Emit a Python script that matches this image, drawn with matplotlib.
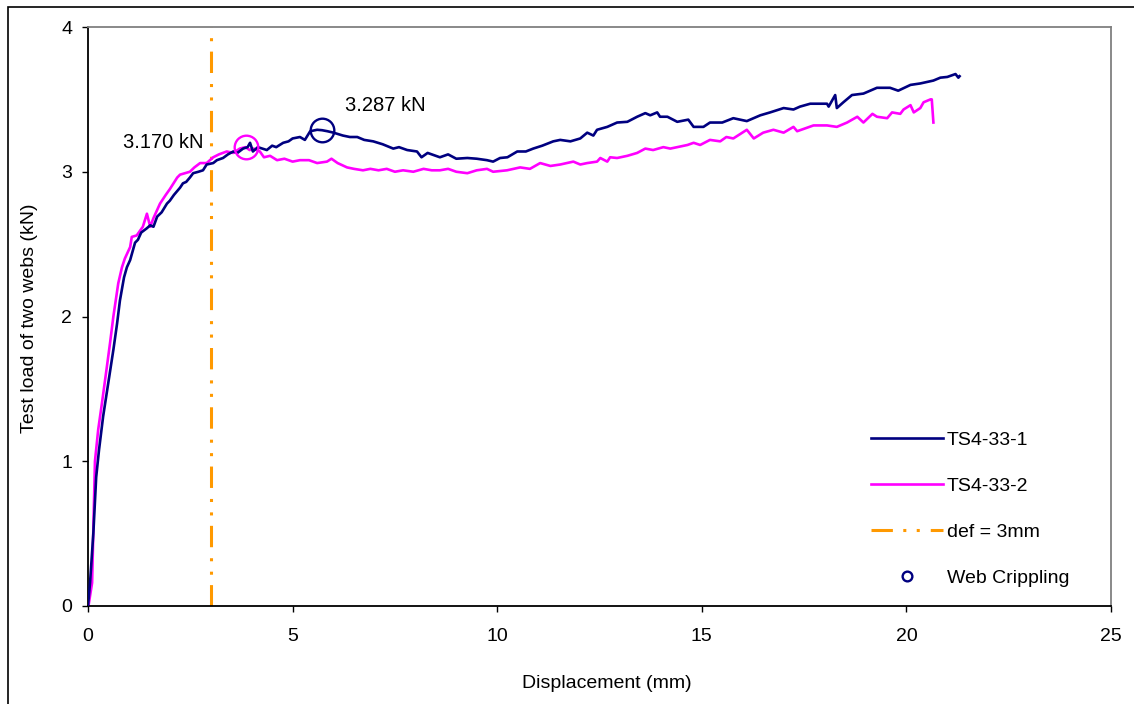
import matplotlib
matplotlib.use("Agg")
import matplotlib.pyplot as plt
from matplotlib.lines import Line2D
from matplotlib.patches import Rectangle

plt.rcParams['font.family'] = ['Liberation Sans', 'DejaVu Sans']

# TS4-33-1 load-displacement curve
disp_1 = [0, 0.05, 0.13, 0.2, 0.27, 0.37, 0.44, 0.54, 0.62, 0.71, 0.78, 0.88, 0.95, 1.03,
          1.15, 1.22, 1.3, 1.44, 1.52, 1.6, 1.69, 1.8, 1.93, 2.0, 2.1, 2.25, 2.32, 2.4,
          2.49, 2.57, 2.7, 2.81, 2.9, 3.06, 3.15, 3.3, 3.42, 3.55, 3.65, 3.79, 3.9, 3.96,
          4.03, 4.15, 4.37, 4.5, 4.6, 4.77, 4.9, 5.0, 5.18, 5.3, 5.43, 5.6, 5.72, 5.85,
          6.0, 6.23, 6.4, 6.58, 6.75, 6.97, 7.2, 7.46, 7.6, 7.8, 8.04, 8.15, 8.3, 8.6,
          8.8, 9.0, 9.27, 9.5, 9.75, 9.9, 10.07, 10.25, 10.49, 10.7, 10.88, 11.1, 11.37,
          11.54, 11.79, 12.03, 12.2, 12.35, 12.44, 12.69, 12.93, 13.18, 13.42, 13.62,
          13.74, 13.91, 13.98, 14.16, 14.4, 14.67, 14.8, 15.04, 15.2, 15.5, 15.77, 16.1,
          16.43, 16.67, 17.0, 17.24, 17.4, 17.65, 18.06, 18.1, 18.26, 18.3, 18.46, 18.67,
          18.95, 19.28, 19.6, 19.8, 20.1, 20.34, 20.66, 20.83, 21.0, 21.2, 21.27, 21.3]
load_1 = [0, 0.16, 0.5, 0.89, 1.08, 1.31, 1.44, 1.63, 1.77, 1.95, 2.11, 2.27, 2.34, 2.39,
          2.51, 2.53, 2.58, 2.61, 2.63, 2.62, 2.69, 2.72, 2.78, 2.80, 2.84, 2.89, 2.92, 2.93,
          2.96, 2.99, 3.0, 3.01, 3.05, 3.06, 3.08, 3.095, 3.12, 3.14, 3.13, 3.16, 3.17, 3.20,
          3.14, 3.17, 3.15, 3.18, 3.17, 3.20, 3.21, 3.23, 3.24, 3.22, 3.28, 3.29, 3.287, 3.28,
          3.27, 3.25, 3.24, 3.24, 3.22, 3.21, 3.19, 3.16, 3.17, 3.15, 3.14, 3.10, 3.13, 3.10,
          3.12, 3.09, 3.095, 3.09, 3.08, 3.07, 3.095, 3.10, 3.14, 3.14, 3.16, 3.18, 3.21,
          3.22, 3.21, 3.23, 3.27, 3.25, 3.29, 3.31, 3.34, 3.345, 3.38, 3.405,
          3.39, 3.41, 3.38, 3.38, 3.345, 3.36, 3.31, 3.31, 3.34, 3.34, 3.37, 3.35,
          3.39, 3.41, 3.44, 3.43, 3.45, 3.47, 3.47, 3.45, 3.53, 3.44, 3.48, 3.53,
          3.54, 3.58, 3.58, 3.56, 3.60, 3.61, 3.63, 3.65, 3.655, 3.675, 3.65, 3.66]

# TS4-33-2 load-displacement curve
disp_2 = [0, 0.1, 0.17, 0.25, 0.34, 0.46, 0.54, 0.62, 0.74, 0.83, 0.9, 1.03, 1.07, 1.19,
          1.34, 1.44, 1.52, 1.6, 1.76, 1.9, 2.0, 2.18, 2.25, 2.49, 2.6, 2.74, 2.9, 3.06,
          3.2, 3.39, 3.55, 3.71, 3.85, 3.95, 4.05, 4.2, 4.3, 4.45, 4.62, 4.8, 5.0, 5.18,
          5.4, 5.6, 5.84, 5.95, 6.1, 6.33, 6.5, 6.72, 6.9, 7.1, 7.3, 7.5, 7.7, 7.95, 8.2,
          8.4, 8.6, 8.8, 9.0, 9.27, 9.5, 9.75, 9.9, 10.24, 10.4, 10.56, 10.8, 11.05, 11.3,
          11.54, 11.86, 12.03, 12.2, 12.44, 12.52, 12.69, 12.76, 12.93, 13.18, 13.42,
          13.62, 13.81, 14.06, 14.23, 14.4, 14.65, 14.8, 14.96, 15.2, 15.45, 15.6, 15.77,
          16.1, 16.27, 16.5, 16.75, 17.0, 17.24, 17.33, 17.73, 18.06, 18.3, 18.55, 18.8,
          18.95, 19.17, 19.28, 19.53, 19.65, 19.85, 19.93, 20.1, 20.18, 20.34, 20.42,
          20.59, 20.62, 20.66]
load_2 = [-0.02, 0.16, 1.0, 1.22, 1.40, 1.65, 1.82, 2.0, 2.23, 2.34, 2.40, 2.48, 2.55, 2.56,
          2.62, 2.71, 2.62, 2.68, 2.78, 2.84, 2.88, 2.96, 2.98, 3.0, 3.03, 3.06, 3.06, 3.10,
          3.12, 3.14, 3.13, 3.16, 3.17, 3.15, 3.16, 3.14, 3.10, 3.11, 3.08, 3.09, 3.07, 3.08,
          3.08, 3.06, 3.07, 3.09, 3.06, 3.03, 3.02, 3.01, 3.02, 3.01, 3.02, 3.00, 3.01, 3.0, 3.02,
          3.01, 3.01, 3.02, 3.0, 2.99, 3.01, 3.02, 3.0, 3.01, 3.02, 3.03, 3.02, 3.06, 3.04,
          3.05, 3.07, 3.05, 3.06, 3.07, 3.095, 3.07, 3.10, 3.095, 3.11, 3.13,
          3.16, 3.15, 3.17, 3.16, 3.17, 3.185, 3.20, 3.185, 3.22, 3.21, 3.24, 3.23,
          3.29, 3.23, 3.27, 3.29, 3.27, 3.31, 3.28, 3.32, 3.32, 3.31, 3.34, 3.38,
          3.34, 3.40, 3.38, 3.37, 3.41, 3.40, 3.43, 3.46, 3.41, 3.44, 3.48,
          3.50, 3.50, 3.34]

def_limit = 3.0
crip_disp = [3.85, 5.72]
crip_load = [3.170, 3.287]
crip_labels = ['3.170 kN', '3.287 kN']

navy = '#000080'
magenta = '#FF00FF'
orange = '#FF9900'
dashdotdot = (0, (7.0, 3.4, 1.0, 3.4, 1.0, 3.6))

W, H = 1134, 704
fig = plt.figure(figsize=(W / 100, H / 100), dpi=100)
ax = fig.add_axes([88 / W, 1 - 606 / H, (1111 - 88) / W, (606 - 27) / H])

ax.plot(disp_1, load_1, color=navy, lw=1.9, zorder=3)
ax.plot(disp_2, load_2, color=magenta, lw=1.9, zorder=2)
ax.plot([def_limit, def_limit], [0, 4], color=orange, lw=2.2, linestyle=dashdotdot, zorder=1)

# web crippling points
ax.plot(crip_disp[0], crip_load[0], 'o', ms=17, mfc='none', mec=magenta, mew=1.7, zorder=4)
ax.plot(crip_disp[1], crip_load[1], 'o', ms=17, mfc='none', mec=navy, mew=1.7, zorder=4)
ax.text(0.86, 3.205, crip_labels[0], fontsize=14.5, va='center', ha='left')
ax.text(6.28, 3.46, crip_labels[1], fontsize=14.5, va='center', ha='left')

ax.set_xlim(0, 25)
ax.set_ylim(0, 4)
ax.set_xticks([0, 5, 10, 15, 20, 25])
ax.set_yticks([0, 1, 2, 3, 4])
ax.tick_params(axis='both', direction='out', length=4.5, width=1, labelsize=14, colors='black')
ax.tick_params(axis='x', pad=11)
ax.tick_params(axis='y', pad=7)

for side in ['left', 'bottom']:
    ax.spines[side].set_color('black')
    ax.spines[side].set_linewidth(1.3)
for side in ['top', 'right']:
    ax.spines[side].set_color('#808080')
    ax.spines[side].set_linewidth(1.3)

fig.text(607 / W, 1 - 683 / H, 'Displacement (mm)', fontsize=14, ha='center', va='center')
fig.text(30 / W, 1 - 318 / H, 'Test load of two webs (kN)', fontsize=14,
         ha='center', va='center', rotation=90)

handles = [
    Line2D([], [], color=navy, lw=1.9),
    Line2D([], [], color=magenta, lw=1.9),
    Line2D([], [], color=orange, lw=2.2, linestyle=dashdotdot),
    Line2D([], [], color=navy, marker='o', ms=7, mfc='none', mew=1.7, linestyle='none'),
]
labels = ['TS4-33-1', 'TS4-33-2', 'def = 3mm', 'Web Crippling']
fig.legend(handles, labels, loc='center left', bbox_to_anchor=(871 / W, 1 - 509 / H),
           frameon=False, fontsize=14, handlelength=3.7, handletextpad=0.2,
           labelspacing=1.47, borderpad=0, borderaxespad=0)

# outer chart border
fig.add_artist(Rectangle((8 / W, -0.1), 1.2, 1.1 - 7 / H, transform=fig.transFigure,
                         fill=False, edgecolor='black', lw=1.2))

fig.savefig('out.png', dpi=100, facecolor='white')
